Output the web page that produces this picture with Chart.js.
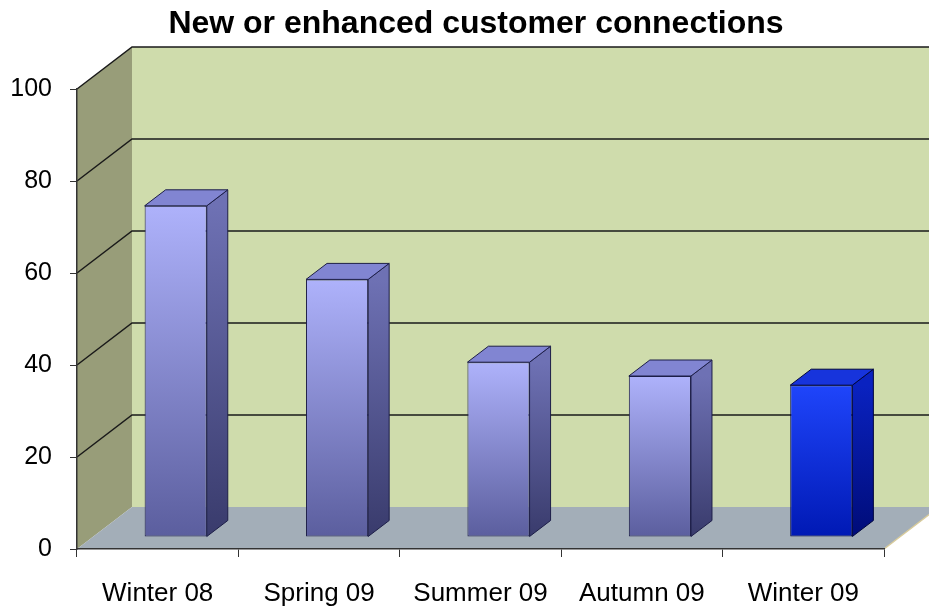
<!DOCTYPE html>
<html>
<head>
  <title>New or enhanced customer connections</title>
  <style>
    body {
      margin: 0;
      background: #ffffff;
    }

    #chart-container {
      width: 929px;
      height: 608px;
    }
  </style>
</head>
<body>
  <div id="chart-container">
    <canvas id="bar-chart" width="929" height="608"></canvas>
  </div>

  <script src="https://cdn.jsdelivr.net/npm/chart.js"></script>
  <script>
    // Chart data
    const chartTitle = "New or enhanced customer connections";
    const seasons = ["Winter 08", "Spring 09", "Summer 09", "Autumn 09", "Winter 09"];
    const connections = [72, 56, 38, 35, 33];
    const valueTicks = [0, 20, 40, 60, 80, 100];
    const highlightIndex = 4; // latest season drawn in bright blue

    // 3D look: wall depth, bar offset into the floor, bar depth
    const DX = 55, DY = -42;
    const BX = 18, BY = -12;
    const BDX = 21, BDY = -16;

    const FONT = "'Liberation Sans', Arial, sans-serif";

    const palette = {
      normal: { front: ["#aeb2fb", "#5b5e9e"], side: ["#6e71b4", "#393b6c"], top: "#8185d2", line: "#1d1e48" },
      highlight: { front: ["#1f45fb", "#0019b4"], side: ["#0a22c0", "#000c78"], top: "#1734dc", line: "#00053c" }
    };

    function barStyle(i) {
      return i === highlightIndex ? palette.highlight : palette.normal;
    }

    const threeD = {
      id: "threeD",
      beforeDraw(chart) {
        const { ctx, chartArea, scales } = chart;
        const { left, right, top, bottom } = chartArea;
        const y = scales.y;
        ctx.save();

        // title (centred a little right of the canvas middle, like the original)
        ctx.fillStyle = "#000000";
        ctx.font = "bold 32px " + FONT;
        ctx.textAlign = "center";
        ctx.textBaseline = "alphabetic";
        ctx.fillText(chartTitle, 476, 33);

        // back wall
        ctx.fillStyle = "#cfdcac";
        ctx.fillRect(left + DX, top + DY, right - left + 10, bottom - top);

        // left wall
        ctx.fillStyle = "#989d79";
        ctx.beginPath();
        ctx.moveTo(left, top);
        ctx.lineTo(left + DX, top + DY);
        ctx.lineTo(left + DX, bottom + DY);
        ctx.lineTo(left, bottom);
        ctx.closePath();
        ctx.fill();

        // floor
        ctx.fillStyle = "#a3aeb8";
        ctx.beginPath();
        ctx.moveTo(left, bottom);
        ctx.lineTo(right, bottom);
        ctx.lineTo(right + DX, bottom + DY);
        ctx.lineTo(left + DX, bottom + DY);
        ctx.closePath();
        ctx.fill();

        // light edge on the right of the floor
        ctx.strokeStyle = "#d9cc9c";
        ctx.lineWidth = 1.5;
        ctx.beginPath();
        ctx.moveTo(right, bottom);
        ctx.lineTo(right + DX, bottom + DY);
        ctx.stroke();

        // gridlines on left and back walls
        ctx.strokeStyle = "#1a1a1a";
        ctx.lineWidth = 1.5;
        valueTicks.forEach(v => {
          if (v === 0) return;
          const yy = y.getPixelForValue(v);
          ctx.beginPath();
          ctx.moveTo(left, yy);
          ctx.lineTo(left + DX, yy + DY);
          ctx.lineTo(chart.width + 5, yy + DY);
          ctx.stroke();
        });

        ctx.restore();
      },
      beforeDatasetsDraw(chart) {
        chart.ctx.save();
        chart.ctx.translate(BX, BY);
      },
      afterDatasetsDraw(chart) {
        const ctx = chart.ctx;
        const meta = chart.getDatasetMeta(0);
        meta.data.forEach((bar, i) => {
          const s = barStyle(i);
          const l = bar.x - bar.width / 2;
          const r = bar.x + bar.width / 2;
          const t = bar.y;
          const b = bar.base;
          ctx.lineWidth = 1;
          ctx.strokeStyle = s.line;
          ctx.lineJoin = "round";

          // right side
          const g = ctx.createLinearGradient(0, t, 0, b);
          g.addColorStop(0, s.side[0]);
          g.addColorStop(1, s.side[1]);
          ctx.fillStyle = g;
          ctx.beginPath();
          ctx.moveTo(r, t);
          ctx.lineTo(r + BDX, t + BDY);
          ctx.lineTo(r + BDX, b + BDY);
          ctx.lineTo(r, b);
          ctx.closePath();
          ctx.fill();
          ctx.stroke();

          // top
          ctx.fillStyle = s.top;
          ctx.beginPath();
          ctx.moveTo(l, t);
          ctx.lineTo(l + BDX, t + BDY);
          ctx.lineTo(r + BDX, t + BDY);
          ctx.lineTo(r, t);
          ctx.closePath();
          ctx.fill();
          ctx.stroke();
        });
        ctx.restore();
      }
    };

    const ctx = document.getElementById("bar-chart").getContext("2d");
    new Chart(ctx, {
      type: "bar",
      data: {
        labels: seasons,
        datasets: [
          {
            label: "Connections",
            data: connections,
            categoryPercentage: 1,
            barPercentage: 0.385,
            borderWidth: 1,
            borderSkipped: false,
            borderColor: c => barStyle(c.dataIndex).line,
            backgroundColor: c => {
              const s = barStyle(c.dataIndex);
              const y = c.chart.scales.y;
              if (!y || c.raw === undefined) return s.front[1];
              const y0 = y.getPixelForValue(c.raw);
              const y1 = y.getPixelForValue(0);
              if (!Number.isFinite(y0) || !Number.isFinite(y1) || y0 === y1) return s.front[1];
              const g = c.chart.ctx.createLinearGradient(0, y0, 0, y1);
              g.addColorStop(0, s.front[0]);
              g.addColorStop(1, s.front[1]);
              return g;
            },
            clip: false
          }
        ]
      },
      options: {
        responsive: false,
        animation: false,
        layout: {
          padding: { left: 0, right: 45, top: 89, bottom: 0 }
        },
        plugins: {
          legend: { display: false },
          tooltip: { enabled: false },
          title: { display: false }
        },
        scales: {
          x: {
            grid: { drawOnChartArea: false, tickLength: 8, color: "#333333", offset: true },
            border: { color: "#333333", width: 1.5 },
            ticks: {
              color: "#000000",
              padding: 21,
              font: { family: FONT, size: 26 }
            },
            afterFit: s => { s.height = 59; }
          },
          y: {
            min: 0,
            max: 100,
            grid: { drawOnChartArea: false, tickLength: 7, color: "#333333" },
            border: { color: "#333333", width: 1.5 },
            ticks: {
              stepSize: 20,
              color: "#000000",
              padding: 18,
              font: { family: FONT, size: 25 }
            },
            afterFit: s => { s.width = 77; }
          }
        }
      },
      plugins: [threeD]
    });
  </script>
</body>
</html>
